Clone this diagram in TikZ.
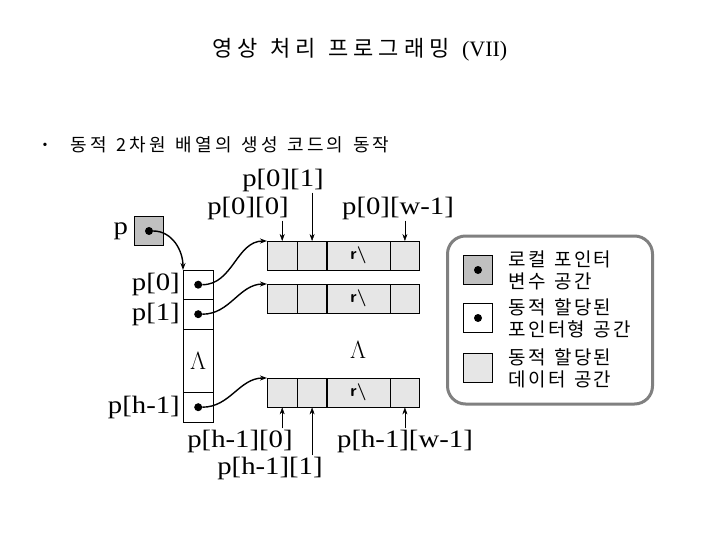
\documentclass[tikz,border=0pt]{standalone}
\usepackage{fontspec}
\setmainfont{Liberation Serif}
\newfontfamily\lblfont[FakeStretch=1.15]{Liberation Serif}
\newfontfamily\krtitle[LetterSpace=22,WordSpace=1.3]{Noto Sans CJK KR}
\newfontfamily\krsub[LetterSpace=17,WordSpace=1.4]{Noto Sans CJK KR}
\newfontfamily\kr[LetterSpace=11,WordSpace=1.4]{Noto Sans CJK KR}
\usetikzlibrary{positioning,arrows.meta}
\definecolor{ptrgray}{RGB}{192,192,192}
\definecolor{datagray}{RGB}{230,230,230}
\definecolor{framegray}{RGB}{128,128,128}

\begin{document}
\begin{tikzpicture}[x=1pt,y=-1pt,>={Stealth[length=7pt,width=5pt]},node distance=2pt,
  lbl/.style={font=\lblfont\fontsize{25}{25}\selectfont,inner sep=1pt},
  cell/.style={draw,fill=datagray,minimum height=29,inner sep=0,anchor=north west},
  slot/.style={draw,fill=white,minimum width=30,inner sep=0,anchor=north west},
  key/.style={draw,minimum size=29,inner sep=0},
  dot/.style={circle,fill,inner sep=0,minimum size=8},
  hdots/.style={font=\sffamily\bfseries\fontsize{17}{17}\selectfont},
  vdots/.style={font=\fontsize{30}{30}\selectfont},
  note/.style={font=\kr\fontsize{19}{22}\selectfont,align=left,inner sep=0}]
  \useasboundingbox (0,0) rectangle (720,540);

  \node[font=\krtitle\fontsize{22}{22}\selectfont] (title) at (360,50) {영상 처리 프로그래밍 {\rmfamily\fontsize{22}{22}\selectfont (VII)}};
  \node[font=\fontsize{14}{14}\selectfont] (bullet) at (45,146) {•};
  \node[font=\krsub\fontsize{18}{18}\selectfont,anchor=west] (topic) at (67,145) {동적 2차원 배열의 생성 코드의 동작};

  \node[key,fill=ptrgray] (p) at (149,231) {};
  \node[dot] (pd) at (p) {};
  \node[lbl,left=5pt of p] {p};

  \node[slot,minimum height=29] (c0) at (183,270) {};
  \node[slot,minimum height=30] (c1) at (183,299) {};
  \node[slot,minimum height=63] (cm) at (183,329) {};
  \node[slot,minimum height=30] (ch) at (183,392) {};
  \node[dot] (d0) at (c0) {};
  \node[dot] (d1) at (c1) {};
  \node[dot] (dh) at (ch) {};
  \node[vdots] (vc) at (cm) {$\Lambda$};
  \node[lbl,left=of c0] {p[0]};
  \node[lbl,left=of c1] {p[1]};
  \node[lbl,left=of ch] {p[h-1]};

  \foreach \r/\y in {0/241,1/284,h/378} {
    \node[cell,minimum width=30] (a\r) at (267,\y) {};
    \node[cell,minimum width=29,right=0pt of a\r] (b\r) {};
    \node[cell,minimum width=63,right=0pt of b\r] (m\r) {};
    \node[cell,minimum width=29,right=0pt of m\r] (w\r) {};
    \node[hdots] (e\r) at (m\r) {r\textbackslash};
  }
  \node[vdots] (vr) at (358,350) {$\Lambda$};

  \path[->,line width=1.4pt] (pd) edge[out=0,in=90] (c0.north west)
            (d0) edge[out=0,in=180] (a0.north west)
            (d1) edge[out=0,in=180] (a1.north west)
            (dh) edge[out=0,in=180] (ah.north west);

  \node[lbl] (t01) at (283,180) {p[0][1]};
  \node[lbl] (t00) at (248,208) {p[0][0]};
  \node[lbl] (t0w) at (398,208) {p[0][w-1]};
  \node[lbl] (bh0) at (240,441) {p[h-1][0]};
  \node[lbl] (bhw) at (405,441) {p[h-1][w-1]};
  \node[lbl] (bh1) at (270,468) {p[h-1][1]};
  \draw[->] (t00.south -| a0) -- (a0.north);
  \draw[->] (t01.south -| b0) -- (b0.north);
  \draw[->] (t0w.south -| w0) -- (w0.north);
  \draw[->] (bh0.north -| ah) -- (ah.south);
  \draw[->] (bh1.north -| bh) -- (bh.south);
  \draw[->] (bhw.north -| wh) -- (wh.south);

  \node[draw=framegray,line width=3pt,rounded corners=18pt,minimum width=205,minimum height=168] (legend) at (550,320) {};
  \node[key,fill=ptrgray] (k1) at (478,270) {};
  \node[key,fill=white] (k2) at (478,318) {};
  \node[key,fill=datagray] (k3) at (478,368) {};
  \node[dot] at (k1) {};
  \node[dot] at (k2) {};
  \node[note,right=16pt of k1] (n1) {로컬 포인터\\변수 공간};
  \node[note,right=16pt of k2] (n2) {동적 할당된\\포인터형 공간};
  \node[note,right=16pt of k3] (n3) {동적 할당된\\데이터 공간};
\end{tikzpicture}
\end{document}
